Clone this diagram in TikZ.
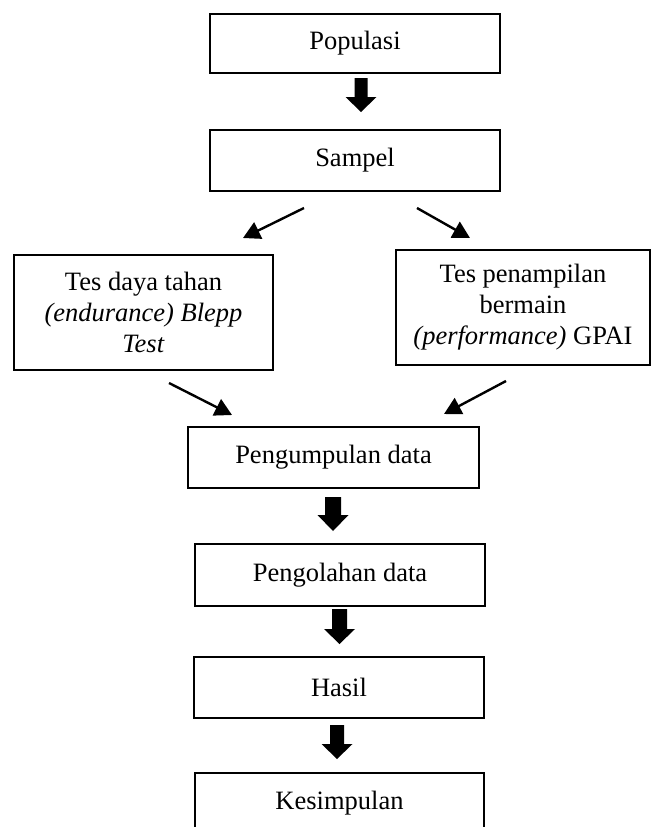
\documentclass[tikz,border=0pt]{standalone}
\usepackage{fontspec}
\setmainfont{Liberation Serif}
\usetikzlibrary{arrows.meta}
\newcommand\blockarr[5]{% x, top, neck, tip, shaft half width
  \fill[black] (#1-#5,#2) -- (#1+#5,#2) -- (#1+#5,#3) -- (#1+15.5,#3) -- (#1,#4)
    -- (#1-15.5,#3) -- (#1-#5,#3) -- cycle;}
\begin{document}
\begin{tikzpicture}[x=1pt,y=-1pt,
  box/.style={draw, line width=2.5pt, inner sep=0pt, align=center,
    font=\fontsize{26.5}{31}\selectfont},
  thinarr/.style={line width=2.4pt, -{Triangle[length=17pt,width=18pt]}}]
\useasboundingbox (0,0) rectangle (652,827);
\clip (0,0) rectangle (652,827);
\node[box, minimum width=290pt, minimum height=59pt] (pop) at (355,43.5) {Populasi};
\node[box, minimum width=290pt, minimum height=61pt] (samp) at (355,160.5) {Sampel};
\node[box, minimum width=259pt, minimum height=115pt] (tes1) at (143.5,312.5)
  {Tes daya tahan\\ \textit{(endurance) Blepp}\\ \textit{Test}};
\node[box, minimum width=254pt, minimum height=115pt] (tes2) at (523,307.5)
  {Tes penampilan\\ bermain\\ \textit{(performance)} GPAI};
\node[box, minimum width=291pt, minimum height=61pt] (pgp) at (333.5,457.5) {Pengumpulan data};
\node[box, minimum width=290pt, minimum height=62pt] (pgl) at (340,575) {Pengolahan data};
\node[box, minimum width=290pt, minimum height=61pt] (has) at (339,687.5) {Hasil};
\node[box, minimum width=289pt, minimum height=61pt] (kes) at (339.5,803.5) {Kesimpulan};

\coordinate (a1s) at (304,208); \coordinate (a1e) at (243,238);
\coordinate (a2s) at (417,208); \coordinate (a2e) at (470,238);
\coordinate (a3s) at (169,383); \coordinate (a3e) at (232,415);
\coordinate (a4s) at (506,381); \coordinate (a4e) at (444,414);
\draw[thinarr] (a1s) -- (a1e);
\draw[thinarr] (a2s) -- (a2e);
\draw[thinarr] (a3s) -- (a3e);
\draw[thinarr] (a4s) -- (a4e);

\blockarr{361}{78}{97}{112}{6.5}
\blockarr{333}{497}{515}{531}{8}
\blockarr{339.5}{609}{629}{644}{7.5}
\blockarr{337}{725}{744}{759}{7}
\end{tikzpicture}
\end{document}
